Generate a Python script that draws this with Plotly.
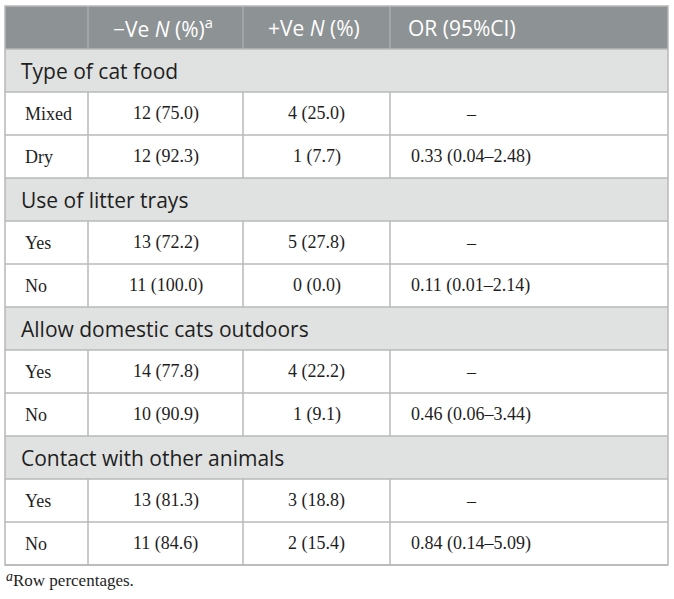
import plotly.graph_objects as go

# ---------------- data ----------------
headers = ["", "−Ve <i>N</i> (%)<sup>a</sup>", "+Ve <i>N</i> (%)", "OR (95%CI)"]
section_titles = ["Type of cat food", "Use of litter trays",
                  "Allow domestic cats outdoors", "Contact with other animals"]
row_labels = [["Mixed", "Dry"], ["Yes", "No"], ["Yes", "No"], ["Yes", "No"]]
neg_n = [[12, 12], [13, 11], [14, 10], [13, 11]]
neg_pct = [[75.0, 92.3], [72.2, 100.0], [77.8, 90.9], [81.3, 84.6]]
pos_n = [[4, 1], [5, 0], [4, 1], [3, 2]]
pos_pct = [[25.0, 7.7], [27.8, 0.0], [22.2, 9.1], [18.8, 15.4]]
or_est = [[None, 0.33], [None, 0.11], [None, 0.46], [None, 0.84]]
or_lo = [[None, 0.04], [None, 0.01], [None, 0.06], [None, 0.14]]
or_hi = [[None, 2.48], [None, 2.14], [None, 3.44], [None, 5.09]]
footnote_mark = "<i>a</i>"
footnote = "Row percentages."

# ---------------- layout constants ----------------
W, H = 674, 599
col_edges = [5, 88, 243, 390, 668]
top = 6
row_h = 43.0
header_bg = "#8d9294"
header_line = "#a9adaf"
section_bg = "#e0e2e1"
line_c = "#b8b8b8"
text_c = "#1e1e1e"
sans = "Open Sans"
serif = "Liberation Serif"

shapes = []
ann = []

def row_top(i):
    return top + i * row_h

# header
shapes.append(dict(type="rect", xref="x", yref="y", x0=col_edges[0], x1=col_edges[-1],
                   y0=row_top(0), y1=row_top(1), fillcolor=header_bg, line=dict(width=0), layer="below"))
for k in range(1, 4):
    shapes.append(dict(type="line", xref="x", yref="y", x0=col_edges[k], x1=col_edges[k],
                       y0=row_top(0), y1=row_top(1), line=dict(color=header_line, width=1.5)))
for k, h in enumerate(headers):
    if not h:
        continue
    if k == 3:
        ann.append(dict(x=col_edges[k] + 16, y=row_top(0) + row_h / 2, text=h, xanchor="left",
                        yanchor="middle", showarrow=False, font=dict(family=sans, size=21, color="white")))
    else:
        ann.append(dict(x=(col_edges[k] + col_edges[k + 1]) / 2 - 3, y=row_top(0) + row_h / 2, text=h,
                        xanchor="center", yanchor="middle", showarrow=False,
                        font=dict(family=sans, size=21, color="white")))

r = 1
for s, title in enumerate(section_titles):
    # section row
    shapes.append(dict(type="rect", xref="x", yref="y", x0=col_edges[0], x1=col_edges[-1],
                       y0=row_top(r), y1=row_top(r + 1), fillcolor=section_bg, line=dict(width=0), layer="below"))
    ann.append(dict(x=col_edges[0] + 14, y=row_top(r) + row_h / 2, text=title, xanchor="left",
                    yanchor="middle", showarrow=False, font=dict(family=sans, size=21, color=text_c)))
    r += 1
    for j in range(2):
        yc = row_top(r) + row_h / 2
        for k in range(1, 4):
            shapes.append(dict(type="line", xref="x", yref="y", x0=col_edges[k], x1=col_edges[k],
                               y0=row_top(r), y1=row_top(r + 1), line=dict(color=line_c, width=1.5)))
        ann.append(dict(x=col_edges[0] + 18, y=yc, text=row_labels[s][j], xanchor="left", yanchor="middle",
                        showarrow=False, font=dict(family=serif, size=18, color=text_c)))
        ann.append(dict(x=(col_edges[1] + col_edges[2]) / 2, y=yc,
                        text=f"{neg_n[s][j]} ({neg_pct[s][j]:.1f})", xanchor="center", yanchor="middle",
                        showarrow=False, font=dict(family=serif, size=18, color=text_c)))
        ann.append(dict(x=(col_edges[2] + col_edges[3]) / 2, y=yc,
                        text=f"{pos_n[s][j]} ({pos_pct[s][j]:.1f})", xanchor="center", yanchor="middle",
                        showarrow=False, font=dict(family=serif, size=18, color=text_c)))
        if or_est[s][j] is None:
            ann.append(dict(x=col_edges[3] + 81, y=yc, text="–", xanchor="center", yanchor="middle",
                            showarrow=False, font=dict(family=serif, size=18, color=text_c)))
        else:
            ann.append(dict(x=col_edges[3] + 19, y=yc,
                            text=f"{or_est[s][j]:.2f} ({or_lo[s][j]:.2f}–{or_hi[s][j]:.2f})",
                            xanchor="left", yanchor="middle", showarrow=False,
                            font=dict(family=serif, size=18, color=text_c)))
        r += 1

n_rows = r
# horizontal lines between rows (below header)
for i in range(1, n_rows + 1):
    shapes.append(dict(type="line", xref="x", yref="y", x0=col_edges[0], x1=col_edges[-1],
                       y0=row_top(i), y1=row_top(i), line=dict(color=line_c, width=1.5)))
# outer border
shapes.append(dict(type="rect", xref="x", yref="y", x0=col_edges[0], x1=col_edges[-1],
                   y0=row_top(n_rows), y1=row_top(0), line=dict(color=line_c, width=1.5)))

# footnote
ann.append(dict(x=col_edges[0] - 1, y=row_top(n_rows) + 11, text=footnote_mark, xanchor="left",
                yanchor="middle", showarrow=False, font=dict(family=serif, size=14, color=text_c)))
ann.append(dict(x=col_edges[0] + 6, y=row_top(n_rows) + 15, text=footnote, xanchor="left", yanchor="middle",
                showarrow=False, font=dict(family=serif, size=17, color=text_c)))

fig = go.Figure()
fig.add_trace(go.Scatter(x=[0, W], y=[0, H], mode="markers", marker=dict(opacity=0),
                         hoverinfo="skip", showlegend=False))
fig.update_layout(
    width=W, height=H, margin=dict(l=0, r=0, t=0, b=0),
    paper_bgcolor="white", plot_bgcolor="white",
    xaxis=dict(range=[0, W], visible=False, fixedrange=True),
    yaxis=dict(range=[H, 0], visible=False, fixedrange=True),
    shapes=shapes, annotations=ann, showlegend=False,
)
fig.write_html("out.html", config={"displayModeBar": False},
               post_script="document.body.style.margin='0px';document.body.style.overflow='hidden';")
